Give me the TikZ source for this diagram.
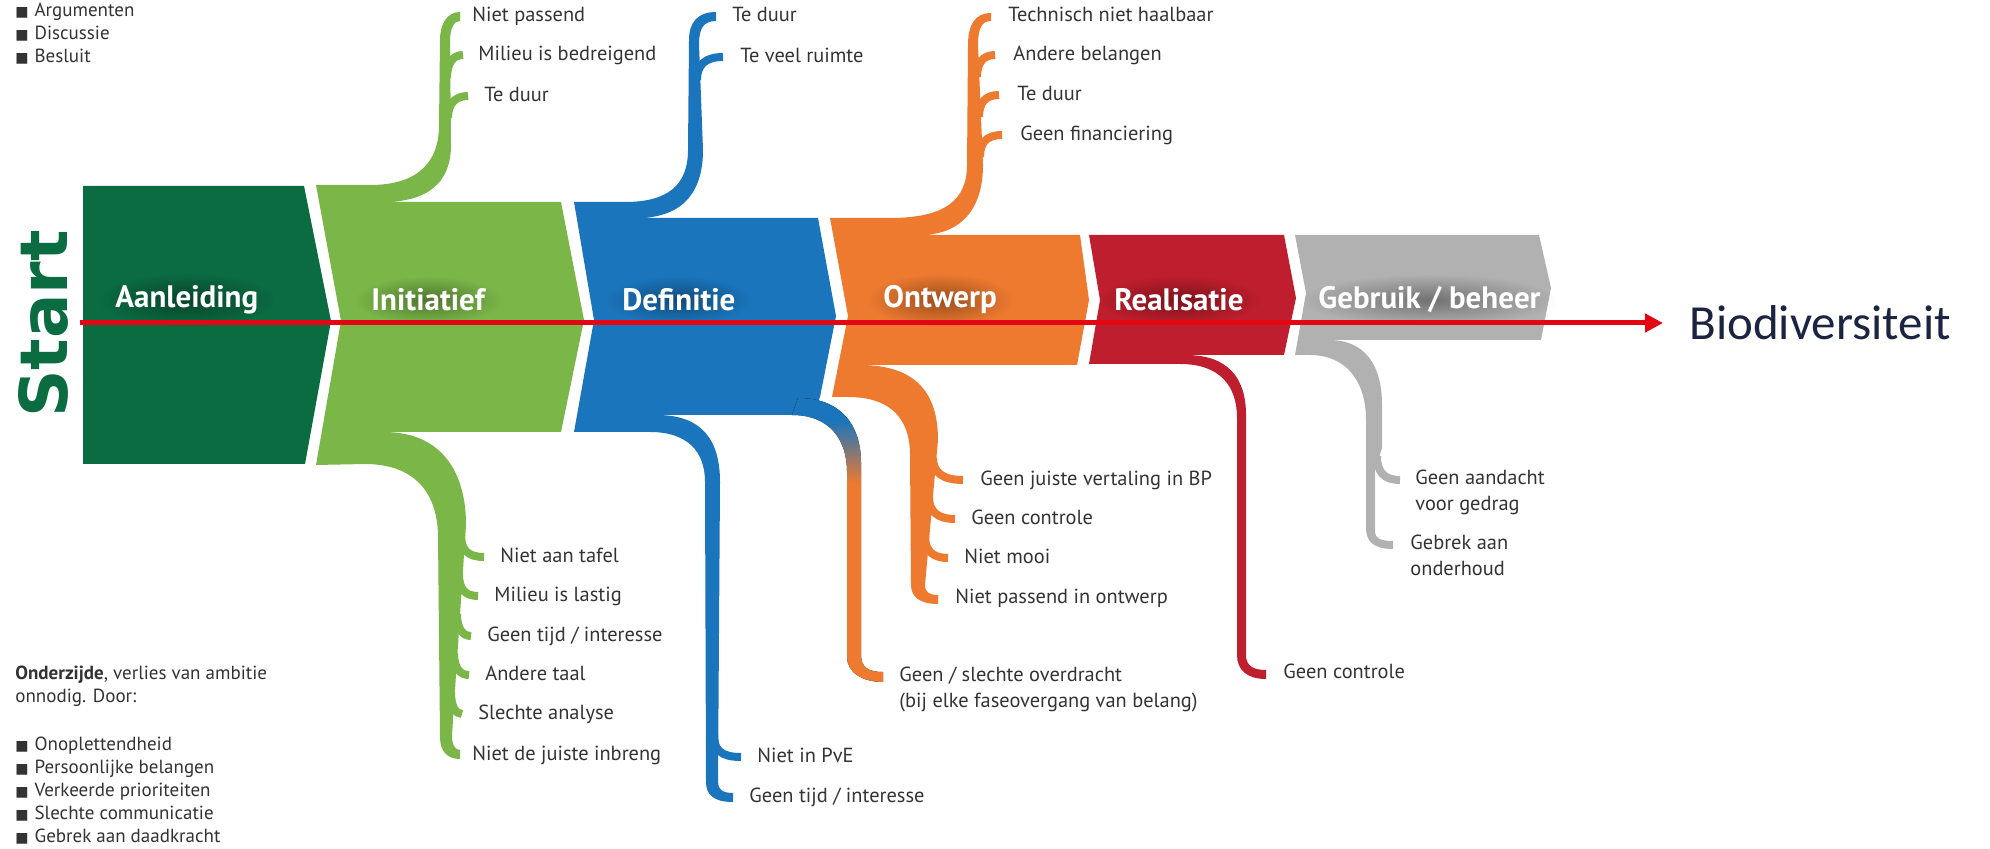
\documentclass[tikz,border=0pt]{standalone}
\usepackage{fontspec}
\setmainfont{PT Sans}
\newfontfamily\biofont{Carlito}
\newfontfamily\startfont{DejaVu Sans}
\newfontfamily\symfont{DejaVu Sans}
\usetikzlibrary{arrows.meta,calc,fadings}

\definecolor{dkgreen}{HTML}{0B6B41}
\definecolor{ltgreen}{HTML}{7AB648}
\definecolor{defblue}{HTML}{1A75BC}
\definecolor{ontorange}{HTML}{EE7A30}
\definecolor{realred}{HTML}{BE1E2D}
\definecolor{beheergrey}{HTML}{B1B1B1}
\definecolor{txtgrey}{HTML}{333333}
\definecolor{arrowred}{HTML}{E30613}
\definecolor{navy}{HTML}{1B2440}

% visible part of a shading is 25bp..75bp
\pgfdeclareverticalshading{blueorange}{100bp}{color(0bp)=(ontorange); color(60bp)=(ontorange); color(71bp)=(defblue); color(100bp)=(defblue)}
\tikzfading[name=softglow, inner color=transparent!35, outer color=transparent!100]

\pgfdeclarelayer{bg}
\pgfdeclarelayer{glow}
\pgfsetlayers{bg,glow,main}

\newcommand{\sq}{{\symfont\fontsize{7}{7}\selectfont ■}\hspace{3pt}}

\begin{document}
\begin{tikzpicture}[x=0.5pt, y=-0.5pt,
		phase/.style={font=\fontsize{15.5}{18}\selectfont\bfseries, text=white, anchor=west, inner sep=0pt},
		lblfont/.style={font=\fontsize{10.2}{13}\selectfont, text=txtgrey, inner sep=0pt},
		lbl/.style={lblfont, anchor=west, text height=7.6pt, text depth=2.3pt},
		twolbl/.style={lblfont, anchor=north west, align=left},
		note/.style={font=\fontsize{9.5}{11.5}\selectfont, text=txtgrey, inner sep=0pt, anchor=north west, align=left},
		twig/.style={line width=4pt, line cap=butt},
		glowblob/.style={black, opacity=.55, path fading=softglow},
	]
	\useasboundingbox (0,0) rectangle (1990,849);

	\begin{pgfonlayer}{bg}
	% phases
	\fill[dkgreen] (83,186) -- (304,186) -- (331,321) -- (305,464) -- (83,464) -- cycle;

	\fill[ltgreen] (316,185) -- (370,185) .. controls (415,185) and (439,165) .. (439,125)
		-- (440,40) .. controls (440,24) and (447,12) .. (460,12)
		-- (460,21) .. controls (454,21) and (450,28) .. (450,42)
		-- (451,145) .. controls (451,185) and (425,202) .. (383,202)
		-- (561,202) -- (584,320) -- (561,432)
		-- (384,432) .. controls (440,432) and (466,470) .. (466,525)
		-- (452,735) .. controls (452,745) and (455,750) .. (460,750)
		-- (460,759) .. controls (447,759) and (440,751) .. (440,737)
		-- (438,535) .. controls (437,490) and (412,464) .. (365,464)
		-- (316,465) -- (341,321) -- cycle;

	\fill[defblue] (574,202) -- (625,202) .. controls (668,202) and (688,185) .. (688,150)
		-- (689,40) .. controls (689,22) and (698,12) .. (716,12)
		-- (716,21) .. controls (704,21) and (699,28) .. (699,44)
		-- (703,150) .. controls (703,195) and (680,218) .. (637,218)
		-- (818,218) -- (836,316) -- (820,397) -- (812,415)
		-- (657,415) .. controls (702,415) and (720,440) .. (720,482)
		-- (718,782) .. controls (718,789) and (722,793) .. (733,793)
		-- (733,802) .. controls (714,802) and (706,795) .. (706,782)
		-- (705,482) .. controls (705,452) and (688,432) .. (650,432)
		-- (574,432) -- (594,320) -- cycle;

	\fill[shading=blueorange] (798,398) .. controls (838,398) and (861,422) .. (861,463)
		-- (861,655) .. controls (861,667) and (868,672) .. (883,672)
		-- (883,682) .. controls (862,682) and (847,672) .. (847,657)
		-- (847,472) .. controls (847,440) and (830,415) .. (792,415) -- cycle;

	\fill[ontorange] (830,218) -- (890,218) .. controls (945,218) and (967,200) .. (967,165)
		-- (968,45) .. controls (968,25) and (975,13) .. (991,13)
		-- (991,21) .. controls (982,21) and (978,28) .. (978,45)
		-- (983,165) .. controls (983,210) and (960,235) .. (920,235)
		-- (1080,235) -- (1089,300) -- (1077,365)
		-- (860,365) .. controls (915,365) and (938,392) .. (938,440)
		-- (925,585) .. controls (925,592) and (929,595) .. (938,595)
		-- (938,604) .. controls (920,604) and (911,597) .. (911,585)
		-- (910,455) .. controls (910,418) and (890,397) .. (848,397)
		-- (832,397) -- (848,316) -- cycle;

	\fill[realred] (1089,235) -- (1284,235) -- (1296,298) -- (1284,355)
		-- (1186,355) .. controls (1228,355) and (1246,378) .. (1246,415)
		-- (1246,655) .. controls (1246,665) and (1252,670) .. (1266,670)
		-- (1266,679) .. controls (1247,679) and (1237,670) .. (1237,655)
		-- (1237,418) .. controls (1237,386) and (1220,364) .. (1180,364)
		-- (1089,364) -- (1100,300) -- cycle;

	\fill[beheergrey] (1295,235) -- (1539,235) -- (1551,288) -- (1541,340)
		-- (1329,340) .. controls (1365,340) and (1382,365) .. (1382,405)
		-- (1382,448) -- (1375,470) -- (1375,532) .. controls (1375,538) and (1380,541) .. (1393,541)
		-- (1393,549) .. controls (1373,549) and (1366,541) .. (1366,528)
		-- (1366,420) .. controls (1366,380) and (1345,355) .. (1310,355)
		-- (1295,355) -- (1306,293) -- cycle;
	\end{pgfonlayer}

	% labels boven
	\node[lbl] (nietpas) at (472,16) {Niet passend};
	\node[lbl] (milbed) at (478,55) {Milieu is bedreigend};
	\node[lbl] (teduur1) at (484,96) {Te duur};
	\node[lbl] (teduur2) at (732,16) {Te duur};
	\node[lbl] (teveel) at (740,57) {Te veel ruimte};
	\node[lbl] (technisch) at (1008,16) {Technisch niet haalbaar};
	\node[lbl] (andere) at (1013,55) {Andere belangen};
	\node[lbl] (teduur3) at (1017,95) {Te duur};
	\node[lbl] (geenfin) at (1020,135) {Geen financiering};

	% labels onder
	\node[lbl] (nietaan) at (500,557) {Niet aan tafel};
	\node[lbl] (millas) at (494,596) {Milieu is lastig};
	\node[lbl] (geentijd1) at (487,636) {Geen tijd / interesse};
	\node[lbl] (anderetaal) at (485,675) {Andere taal};
	\node[lbl] (slechte) at (478,714) {Slechte analyse};
	\node[lbl] (nietjuist) at (472,755) {Niet de juiste inbreng};
	\node[lbl] (nietpve) at (757,757) {Niet in PvE};
	\node[lbl] (geentijd2) at (749,797) {Geen tijd / interesse};
	\node[twolbl] (overdracht) at (899,667) {Geen / slechte overdracht\\(bij elke faseovergang van belang)};
	\node[lbl] (vertaling) at (980,480) {Geen juiste vertaling in BP};
	\node[lbl] (controle1) at (971,519) {Geen controle};
	\node[lbl] (nietmooi) at (964,558) {Niet mooi};
	\node[lbl] (nietpasont) at (955,598) {Niet passend in ontwerp};
	\node[lbl] (controle2) at (1283,673) {Geen controle};
	\node[twolbl] (aandacht) at (1415,470) {Geen aandacht\\voor gedrag};
	\node[twolbl] (onderhoud) at (1410,535) {Gebrek aan\\onderhoud};

	% twijgen
	\begin{pgfonlayer}{bg}
	\draw[twig, ltgreen] (447,78) .. controls (447,63) and (453,55) .. ($(milbed.west)+(-15,0)$);
	\draw[twig, ltgreen] (448,118) .. controls (448,104) and (455,96) .. ($(teduur1.west)+(-16,0)$);
	\draw[twig, defblue] (697,80) .. controls (697,65) and (705,57) .. ($(teveel.west)+(-17,0)$);
	\draw[twig, ontorange] (977,77) .. controls (977,63) and (983,55) .. ($(andere.west)+(-18,0)$);
	\draw[twig, ontorange] (979,117) .. controls (979,103) and (985,95) .. ($(teduur3.west)+(-18,0)$);
	\draw[twig, ontorange] (980,157) .. controls (980,143) and (986,135) .. ($(geenfin.west)+(-18,0)$);

	\draw[twig, ltgreen] (461,535) .. controls (461,550) and (468,557) .. ($(nietaan.west)+(-16,0)$);
	\draw[twig, ltgreen] (459,574) .. controls (459,589) and (465,596) .. ($(millas.west)+(-16,0)$);
	\draw[twig, ltgreen] (457,614) .. controls (457,629) and (463,636) .. ($(geentijd1.west)+(-16,0)$);
	\draw[twig, ltgreen] (454,653) .. controls (454,668) and (460,675) .. ($(anderetaal.west)+(-16,0)$);
	\draw[twig, ltgreen] (451,692) .. controls (451,707) and (456,714) .. ($(slechte.west)+(-16,0)$);
	\draw[twig, defblue] (714,735) .. controls (714,750) and (721,757) .. ($(nietpve.west)+(-16,0)$);
	\draw[twig, ontorange] (933,458) .. controls (933,472) and (942,480) .. ($(vertaling.west)+(-17,0)$);
	\draw[twig, ontorange] (929,497) .. controls (929,511) and (937,519) .. ($(controle1.west)+(-16,0)$);
	\draw[twig, ontorange] (925,536) .. controls (925,550) and (932,558) .. ($(nietmooi.west)+(-16,0)$);
	\draw[twig, beheergrey] (1377,456) .. controls (1377,472) and (1384,480) .. ($(aandacht.north west)+(-15,10)$);
	\end{pgfonlayer}

	% fasen
	\node[phase] (aanl) at (115,300) {Aanleiding};
	\node[phase] (init) at (371,300) {Initiatief};
	\node[phase] (defi) at (622,300) {Definitie};
	\node[phase] (ontw) at (883,300) {Ontwerp};
	\node[phase] (real) at (1114,300) {Realisatie};
	\node[phase] (gebr) at (1318,300) {Gebruik / beheer};
	\begin{pgfonlayer}{glow}
	\foreach \nm in {aanl,init,defi,ontw,real,gebr}
		\fill[glowblob] ($(\nm.south west)+(-16,12)$) rectangle ($(\nm.north east)+(16,-12)$);
	\end{pgfonlayer}

	\node[font=\startfont\bfseries\fontsize{33}{36}\selectfont, text=dkgreen, rotate=90, inner sep=0pt] (start) at (43,324) {Start};

	% pijl
	\coordinate (rstart) at (80,323);
	\node[font=\biofont\fontsize{24.5}{28}\selectfont, text=navy, anchor=west, inner sep=0pt] (bio) at (1689,323) {Biodiversiteit};
	\draw[arrowred, line width=2.5pt, -{Triangle[length=9pt,width=9pt]}, shorten >=13pt] (rstart) -- (bio.west);

	% legenda
	\node[note] (legenda) at (15,3) {\sq Argumenten\\\sq Discussie\\\sq Besluit};
	\node[note] (onder) at (15,666) {\textbf{Onderzijde}, verlies van ambitie\\onnodig. Door:};
	\node[note] (door) at (15,737) {\sq Onoplettendheid\\\sq Persoonlijke belangen\\\sq Verkeerde prioriteiten\\\sq Slechte communicatie\\\sq Gebrek aan daadkracht};
\end{tikzpicture}
\end{document}
